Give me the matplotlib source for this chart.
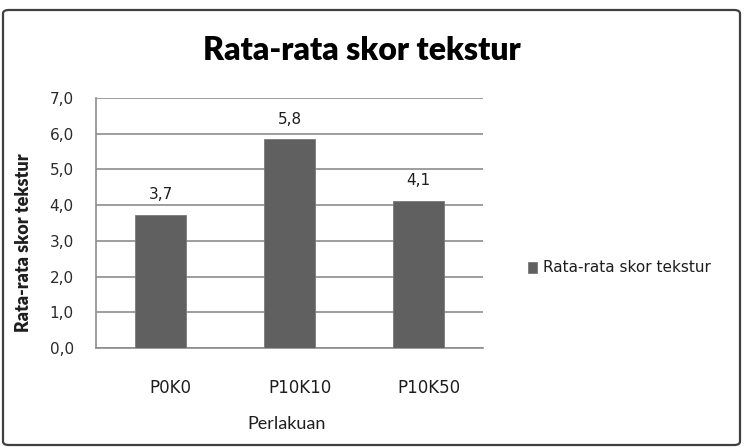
import matplotlib.pyplot as plt
import matplotlib.transforms as mtransforms
from matplotlib.patches import FancyBboxPatch
from matplotlib.ticker import FuncFormatter

# data
perlakuan = ['P0K0', 'P10K10', 'P10K50']
skor = [3.73, 5.84, 4.12]
yticks = [0, 1, 2, 3, 4, 5, 6, 7]
series_name = 'Rata-rata skor tekstur'

bar_color = '#606060'
grid_color = '#8c8c8c'
text_color = '#1e1e1e'

fig = plt.figure(figsize=(7.44, 4.47), dpi=100)
ax = fig.add_axes([96/744, 1-348/447, 387/744, 250/447])

x = list(range(len(perlakuan)))
bars = ax.bar(x, skor, width=0.4, color=bar_color, edgecolor='#7a7a7a',
              linewidth=0.6, label=series_name, zorder=3)
ax.bar_label(bars, labels=[f'{v:.1f}'.replace('.', ',') for v in skor],
             padding=9, fontsize=11, color=text_color, family='DejaVu Sans')

ax.set_xlim(-0.5, len(perlakuan) - 0.5)
ax.set_ylim(0, 7)
ax.set_yticks(yticks)
ax.yaxis.set_major_formatter(FuncFormatter(lambda v, p: f'{v:.1f}'.replace('.', ',')))
ax.set_xticks(x)
ax.set_xticklabels(perlakuan)

ax.grid(axis='y', color=grid_color, linewidth=1.2, zorder=0)
for s in ['top', 'right']:
    ax.spines[s].set_visible(False)
for s in ['left', 'bottom']:
    ax.spines[s].set_color(grid_color)
    ax.spines[s].set_linewidth(1.2)

ax.tick_params(axis='y', length=0, pad=16, labelsize=11, labelcolor='#2a2a2a')
ax.tick_params(axis='x', length=0, pad=22, labelsize=12, labelcolor=text_color)
# shift x tick labels a little to the right like the original
shift = mtransforms.ScaledTranslation(10/100, 0, fig.dpi_scale_trans)
for lbl in ax.get_xticklabels():
    lbl.set_transform(lbl.get_transform() + shift)

ax.set_ylabel(series_name, family='Lato', fontweight='heavy', fontsize=13, color=text_color)
ax.yaxis.set_label_coords(-0.165, 0.42)

fig.text(287/744, 1-424/447, 'Perlakuan', family='Lato', fontsize=13,
         color=text_color, ha='center', va='center')
fig.text(362/744, 1-50/447, series_name, family='Lato', fontweight='heavy',
         fontsize=23, color='black', ha='center', va='center')

fig.legend(handles=[bars], labels=[series_name], loc='center left',
           bbox_to_anchor=(514/744, 1-268/447), frameon=False,
           handlelength=0.6, handleheight=0.7, handletextpad=0.4,
           prop={'family': 'DejaVu Sans', 'size': 11}, labelcolor=text_color)

# outer chart border
border = FancyBboxPatch((3/744, 2/447), 737/744, 435/447,
                        boxstyle='round,pad=0,rounding_size=0.008',
                        transform=fig.transFigure, facecolor='none',
                        edgecolor='#404040', linewidth=1.6)
fig.patches.append(border)

fig.savefig('out.png', dpi=100)
